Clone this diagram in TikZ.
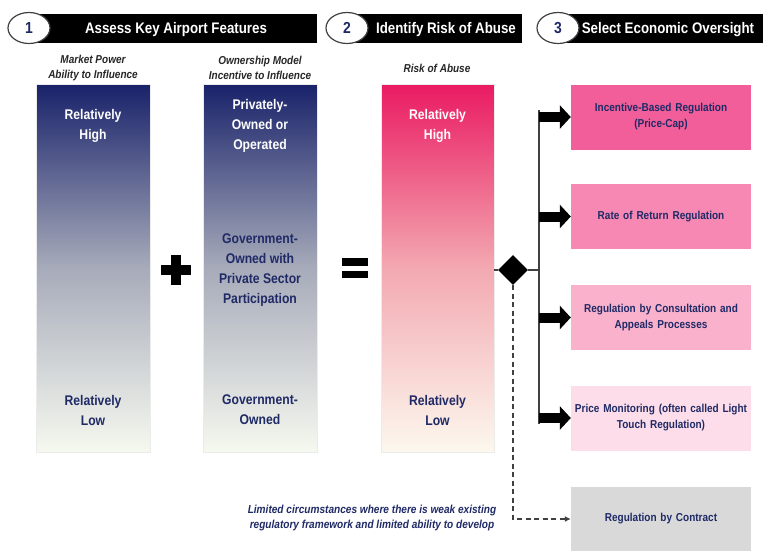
\documentclass[tikz,border=0pt]{standalone}
\usepackage{fontspec}
\setmainfont{Liberation Sans}[FakeStretch=0.87]
\usetikzlibrary{shapes.geometric,arrows.meta}
\definecolor{navytxt}{HTML}{1F2A66}
\definecolor{coltop}{HTML}{19226A}
\definecolor{colmid}{HTML}{A7ABBA}
\definecolor{colbot}{HTML}{F6F9EF}
\definecolor{risktop}{HTML}{EA1A62}
\definecolor{riskmid}{HTML}{F3A9B1}
\definecolor{riskbot}{HTML}{FCF8EE}
\definecolor{boxA}{HTML}{F25E99}
\definecolor{boxB}{HTML}{F688B3}
\definecolor{boxC}{HTML}{F9B1CC}
\definecolor{boxD}{HTML}{FDDDE9}
\definecolor{boxE}{HTML}{D9D9D9}
\definecolor{trunkc}{HTML}{404040}
\begin{document}
\begin{tikzpicture}[x=1pt,y=-1pt,
  hbar/.style={fill=black,draw=none},
  numcirc/.style={ellipse,draw=trunkc,line width=1.2pt,fill=white,minimum width=42pt,minimum height=31pt,inner sep=0pt,font=\fontsize{16}{18}\selectfont\bfseries,text=navytxt},
  htext/.style={text=white,font=\fontsize{15.3}{18}\selectfont\bfseries},
  subtxt/.style={text=black!85,font=\fontsize{11.5}{15}\selectfont\bfseries\itshape,align=center},
  bluecol/.style={shading=axis,top color=coltop,bottom color=colbot,middle color=colmid,minimum width=114pt,minimum height=368pt,inner sep=0pt,draw=white!92!black,line width=0.4pt},
  riskcol/.style={shading=axis,top color=risktop,bottom color=riskbot,middle color=riskmid,minimum width=113pt,minimum height=368pt,inner sep=0pt,draw=white!92!black,line width=0.4pt},
  coltxtw/.style={text=white,align=center,font=\fontsize{14}{20}\selectfont\bfseries},
  coltxtn/.style={text=navytxt,align=center,font=\fontsize{14}{20}\selectfont\bfseries},
  regbox/.style={minimum width=180pt,minimum height=65pt,inner sep=2pt,align=center,text=navytxt,font=\fontsize{11.5}{16}\selectfont\bfseries,text width=176pt},
  blockarrow/.style={line width=10pt,-{Triangle[length=11pt,width=23pt]}},
  trunk/.style={draw=trunkc,line width=1.5pt},
  link/.style={draw=trunkc,line width=1.2pt},
  dashlink/.style={draw=trunkc,line width=1.5pt,dash pattern=on 5pt off 3.5pt,-{Latex[length=6pt,width=6pt]}}
]
\useasboundingbox (0,0) rectangle (763,550);
% header bars
\fill[hbar] (30,14) rectangle (317,43);
\fill[hbar] (350,14) rectangle (522,43);
\fill[hbar] (560,14) rectangle (763,43);
\node[numcirc] (c1) at (29,28) {1};
\node[numcirc] (c2) at (347,28) {2};
\node[numcirc] (c3) at (558,28) {3};
\node[htext] (h1) at (176,30) {Assess Key Airport Features};
\node[htext] (h2) at (446,30) {Identify Risk of Abuse};
\node[htext] (h3) at (668,30) {Select Economic Oversight};
% subtitles
\node[subtxt] (s1) at (93,68) {Market Power\\Ability to Influence};
\node[subtxt] (s2) at (260,68) {Ownership Model\\Incentive to Influence};
\node[subtxt] (s3) at (437,68) {Risk of Abuse};
% columns
\node[bluecol] (col1) at (93,268) {};
\node[bluecol] (col2) at (260,268) {};
\node[riskcol] (col3) at (437.5,268) {};
\node[coltxtw] (t1a) at (93,126) {Relatively\\High};
\node[coltxtn] (t1b) at (93,410) {Relatively\\Low};
\node[coltxtw] (t2a) at (260,126) {Privately-\\Owned or\\Operated};
\node[coltxtn] (t2m) at (260,270) {Government-\\Owned with\\Private Sector\\Participation};
\node[coltxtn] (t2b) at (260,410) {Government-\\Owned};
\node[coltxtw] (t3a) at (437.5,126) {Relatively\\High};
\node[coltxtn] (t3b) at (437.5,410) {Relatively\\Low};
% plus and equals
\fill (161,265) rectangle (191,275);
\fill (171,255) rectangle (181,285);
\fill (342,258) rectangle (368,266);
\fill (342,271) rectangle (368,278);
% regulation boxes
\node[regbox,fill=boxA] (b1) at (661,117) {Incentive-Based Regulation\\(Price-Cap)};
\node[regbox,fill=boxB] (b2) at (661,216.5) {Rate of Return Regulation};
\node[regbox,fill=boxC] (b3) at (661,317.5) {Regulation by Consultation and\\Appeals Processes};
\node[regbox,fill=boxD] (b4) at (661,418) {Price Monitoring (often called Light\\Touch Regulation)};
\node[regbox,fill=boxE] (b5) at (661,519) {Regulation by Contract};
% diamond and trunk
\node[diamond,fill=black,minimum width=30pt,minimum height=30pt,inner sep=0pt] (dia) at (513,270) {};
\coordinate (tTop) at (539,110);
\coordinate (tBot) at (539,423.5);
\draw[trunk] (tTop) -- (tBot);
\draw[link] (dia -| col3.east) -- (dia.west);
\draw[link] (dia.east) -- (dia -| tTop);
\draw[blockarrow] (b1.west -| tTop) -- (b1.west);
\draw[blockarrow] (b2.west -| tTop) -- (b2.west);
\draw[blockarrow] (b3.west -| tTop) -- (b3.west);
\draw[blockarrow] (b4.west -| tTop) -- (b4.west);
\draw[dashlink] (dia.south) |- (b5.west);
% note
\node[text=navytxt,align=center,font=\fontsize{11.6}{15}\selectfont\bfseries\itshape] (note) at (372,518) {Limited circumstances where there is weak existing\\regulatory framework and limited ability to develop};
\end{tikzpicture}
\end{document}
